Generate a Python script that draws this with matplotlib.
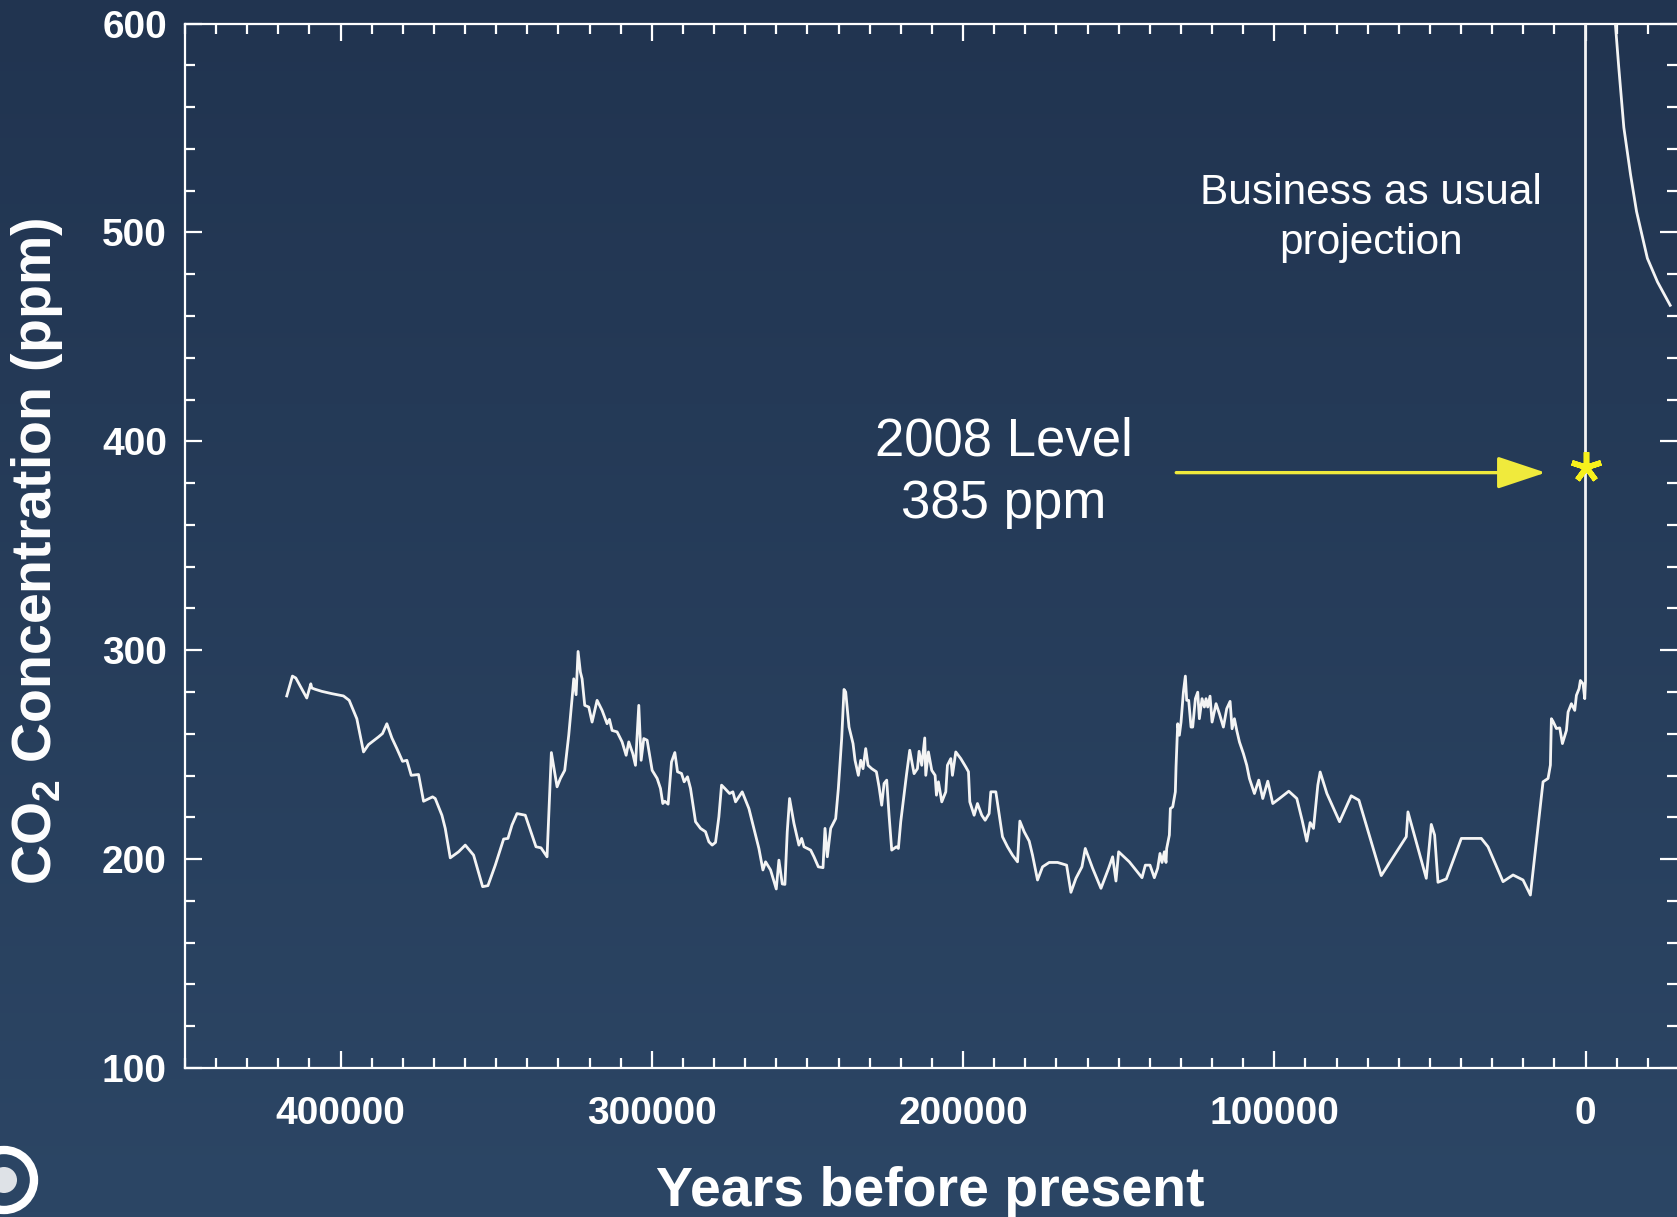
import matplotlib
matplotlib.use("Agg")
import matplotlib.pyplot as plt
import numpy as np
from matplotlib import font_manager
from matplotlib.patches import Circle
from matplotlib.ticker import MultipleLocator
from matplotlib.transforms import IdentityTransform

# ice core record (years before present, ppm)
years = [417300, 415480, 414400, 410870, 409580, 409260, 408190, 406040, 402830, 399080,
         397250, 394790, 392640, 391040, 387820, 386540, 385140, 383530, 381920, 380100,
         378710, 377310, 374960, 373350, 370450, 369600, 367450, 366380, 364770, 362090,
         359950, 357270, 354370, 352660, 350300, 347620, 346230, 344940, 343330, 340660,
         338510, 337220, 335610, 334760,
         333670, 332280, 330450, 329380, 327990, 326700, 325630, 325090, 324340, 323700,
         322950, 322410, 321560, 320270, 319200, 317590, 315980, 314380, 313620, 312770,
         311160, 309550, 308260, 307410, 306120, 305260, 304190, 303440, 302580, 301510,
         299900, 298290, 297220, 296470, 295830, 294760, 293680, 292610, 291750, 290470,
         289610, 288540, 287570, 285960, 284360, 282750, 281680, 280610, 279530, 278460,
         277600, 276530, 275030, 273960, 273100, 270960, 268810, 267210, 265600, 264310,
         263450, 261850, 260020, 259170, 258090, 257240, 256490, 255740, 254340, 252740,
         251860, 251110, 250040, 248970, 247900, 246500, 245000, 244360, 243610, 242540,
         240930, 240070, 239000, 238250, 237710, 236640, 235350, 234710, 233640, 232890,
         232140, 231280, 230530, 229350, 227850, 226990, 226140, 225380, 224530, 223780,
         222920, 221420, 220780, 220020, 218200, 217130, 215740, 214660, 214130, 213270,
         212310, 211980, 211130, 210060, 208980, 208550, 207910, 206840, 205550, 205020,
         203940, 203410, 202340, 200730, 199120, 198260, 197830, 196440, 195370, 193980,
         192900, 191620, 191080, 189470, 187330, 185720, 184110, 182500, 181750, 180360,
         178750, 177680, 176070, 174460, 172320, 169640,
         166730, 165340, 163730, 161800, 160730, 158370, 155690, 153230, 151940, 150870,
         150010, 146580, 142500, 141430, 139930, 138540, 137470, 136720, 136070, 135320,
         134790, 134570, 133710, 133390, 132640, 131790, 131570, 131030, 130500, 129960,
         129210, 128570, 128140, 127500, 126750, 126210, 125350, 124600, 124070, 123210,
         122460, 121920, 121390, 120640, 119990, 118710, 117630, 116350, 115280, 114200,
         113560, 112810, 112060, 111200, 109920, 108840, 107990, 106380, 104990, 103700,
         102090, 100480, 98340, 95340, 92760, 91050, 89550, 88480, 87400, 86010, 85260,
         83100, 79030, 75280, 72810, 65630, 57590, 57050, 51160, 49550, 48480,
         47400, 44720, 39900, 33470, 31320, 26500, 23280, 20070, 17710, 13640,
         12030, 11280, 10960, 10420, 9350, 8280, 7420, 6130, 5600, 4530,
         3460, 2920, 2060, 1640, 780, 240, 0, 0]
co2 = [278.1, 287.6, 286.7, 277.1, 283.9, 281.9, 281.3, 280.3, 279.2, 278.1,
       276.0, 267.2, 251.3, 254.8, 258.5, 260.1, 264.8, 258.0, 252.9, 246.8,
       247.3, 240.1, 240.5, 227.7, 229.8, 229.0, 221.0, 214.7, 200.6, 203.5,
       206.7, 201.9, 186.8, 187.3, 197.1, 209.6, 209.9, 216.3, 221.8, 221.0,
       211.5, 205.9, 205.4, 203.5,
       201.1, 251.0, 234.6, 238.6, 242.5, 259.3, 276.8, 286.3, 278.7, 299.4,
       289.5, 286.3, 273.6, 272.8, 265.6, 276.0, 271.2, 264.8, 266.9, 261.6,
       260.9, 256.1, 249.7, 256.1, 250.5, 244.9, 273.6, 247.3, 257.7, 256.9,
       242.5, 238.6, 233.8, 226.6, 227.7, 226.3, 246.5, 251.0, 241.8, 241.0,
       237.0, 239.4, 233.8, 217.9, 214.7, 213.1, 208.3, 206.7, 208.0, 220.2,
       235.4, 233.8, 231.4, 232.2, 227.4, 232.2, 224.2, 214.7, 205.1, 194.8,
       198.7, 194.8, 185.7, 199.5, 188.1, 187.9, 213.1, 229.0, 217.1, 206.7,
       209.9, 205.9, 205.1, 204.3, 201.1, 196.3, 195.9, 214.7, 201.1, 214.7,
       219.4, 233.8, 257.7, 281.2, 280.0, 263.2, 255.3, 247.3, 240.1, 247.3,
       243.3, 252.9, 244.9, 243.3, 241.8, 234.6, 225.8, 236.2, 237.8, 221.0,
       204.3, 205.9, 205.1, 217.9, 240.1, 252.1, 240.9, 243.3, 251.6, 244.9,
       258.0, 240.1, 251.3, 242.5, 240.1, 230.6, 237.0, 227.4, 232.2, 244.9,
       248.1, 240.1, 251.3, 248.1, 244.1, 241.8, 227.4, 221.0, 226.6, 221.0,
       218.6, 221.8, 232.2, 232.2, 210.7, 205.9, 201.9, 198.7, 218.2, 213.1,
       208.6, 201.9, 190.0, 196.3, 198.4, 198.4,
       197.1, 184.1, 190.8, 196.3, 205.1, 195.6, 186.0, 195.6, 201.1, 189.5,
       203.5, 198.7, 191.1, 197.1, 197.1, 191.1, 195.6, 202.7, 198.4, 203.5,
       198.4, 205.1, 211.5, 224.2, 225.0, 232.2, 244.1, 264.8, 259.3, 265.6,
       279.9, 287.6, 276.0, 276.0, 263.2, 263.2, 276.8, 279.9, 267.2, 276.8,
       272.8, 276.8, 272.8, 278.0, 265.6, 274.4, 269.6, 263.2, 272.0, 275.5,
       262.4, 267.2, 261.6, 256.1, 250.5, 244.9, 238.6, 231.4, 237.8, 229.0,
       237.3, 226.6, 229.0, 232.5, 229.0, 218.6, 208.6, 217.5, 214.7, 235.4, 241.7,
       231.4, 217.9, 230.3, 228.2, 192.1, 210.7, 222.6, 190.8, 216.6, 211.5,
       188.9, 190.5, 209.9, 209.9, 205.9, 189.2, 192.4, 190.0, 182.8, 237.0,
       238.6, 245.0, 267.2, 265.9, 262.5, 262.8, 255.3, 261.6, 270.4, 274.4,
       271.2, 278.4, 281.6, 285.5, 283.9, 276.8, 285.5, 700]

# business as usual projection
proj_years = [-9585, -10680, -12320, -14470, -16400, -19880, -23130, -27210]
proj_co2 = [600, 579.1, 550.2, 527.7, 510.0, 487.6, 476.3, 465.1]

level_2008 = 385
arrow_start = 131500
arrow_end = 12800

x_ticks = [400000, 300000, 200000, 100000, 0]
x_tick_labels = ["400000", "300000", "200000", "100000", "0"]
y_ticks = [100, 200, 300, 400, 500, 600]
y_tick_labels = ["100", "200", "300", "400", "500", "600"]

installed = {f.name for f in font_manager.fontManager.ttflist}
if "Liberation Sans Narrow" in installed:
    axis_font, tick_size, ylab_size = "Liberation Sans Narrow", 30, 46
else:
    axis_font, tick_size, ylab_size = "Liberation Sans", 28, 40

W, H = 1677, 1217
fig = plt.figure(figsize=(W / 100, H / 100), dpi=100)

# gradient background
bg = fig.add_axes([0, 0, 1, 1], zorder=-10)
grad = np.linspace(0, 1, 256).reshape(-1, 1, 1)
top_c = np.array([0x21, 0x34, 0x50]) / 255
bot_c = np.array([0x2c, 0x46, 0x65]) / 255
bg.imshow(top_c + (bot_c - top_c) * grad, aspect="auto", extent=[0, 1, 0, 1])
bg.axis("off")

ax = fig.add_axes([185 / W, 1 - 1068 / H, 1 - 185 / W, (1068 - 23.5) / H])
ax.set_facecolor("none")

ax.plot(years, co2, color="#f4f4f4", lw=2.0, zorder=3)
ax.plot(proj_years, proj_co2, color="#f4f4f4", lw=2.0, zorder=3)

ax.set_xlim(450000, -29400)
ax.set_ylim(100, 600)

ax.set_xticks(x_ticks, x_tick_labels, fontfamily=axis_font, fontweight="bold", fontsize=tick_size)
ax.set_yticks(y_ticks, y_tick_labels, fontfamily=axis_font, fontweight="bold", fontsize=tick_size)
ax.xaxis.set_minor_locator(MultipleLocator(10000))
ax.yaxis.set_minor_locator(MultipleLocator(20))
ax.tick_params(which="both", direction="in", color="white", labelcolor="white",
               top=True, right=True, width=1.6)
ax.tick_params(which="major", length=12.5)
ax.tick_params(which="minor", length=7.5)
ax.tick_params(axis="x", pad=20)
ax.tick_params(axis="y", pad=13)

for side in ["left", "bottom", "top"]:
    ax.spines[side].set_color("white")
    ax.spines[side].set_linewidth(1.6)
ax.spines["right"].set_visible(False)

# annotations
ax.annotate("", xy=(arrow_end, level_2008), xytext=(arrow_start, level_2008),
            arrowprops=dict(arrowstyle="-|>,head_length=1.5,head_width=0.5",
                            mutation_scale=20, lw=2.4, color="#f0ea3c",
                            shrinkA=0, shrinkB=0), zorder=4)
ax.plot(0, 387.6, marker=(5, 2, 0), ms=22, mew=4, color="#f7f01c", zorder=5)

ax.text(187000, 385, "2008 Level\n385 ppm", ha="center", va="center", fontsize=38,
        color="white", fontfamily="Liberation Sans", linespacing=1.32)
ax.text(69000, 507, "Business as usual\nprojection", ha="center", va="center",
        fontsize=30.5, color="white", fontfamily="Liberation Sans", linespacing=1.32)

fig.text(37 / W, 1 - 551 / H, "CO$_\\mathregular{2}$ Concentration (ppm)", rotation=90,
         ha="center", va="center", fontsize=ylab_size, fontweight="bold",
         fontfamily=axis_font, color="white")
fig.text(930 / W, 1 - 1206 / H, "Years before present", ha="center", va="baseline",
         fontsize=40, fontweight="bold", fontfamily="Liberation Sans", color="white")

# seal in the corner
fig.add_artist(Circle((4, H - 1180), 30, transform=IdentityTransform(),
                      facecolor="none", edgecolor="white", lw=6))
fig.add_artist(Circle((4, H - 1180), 13, transform=IdentityTransform(),
                      facecolor="white", edgecolor="none", alpha=0.85))

fig.savefig("out.png", dpi=100)
